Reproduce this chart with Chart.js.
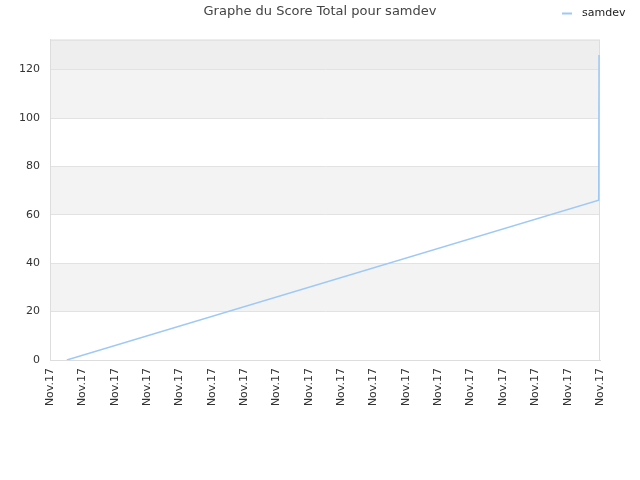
<!DOCTYPE html>
<html>
<head>
<meta charset="utf-8">
<script src="https://cdn.jsdelivr.net/npm/chart.js@4/dist/chart.umd.min.js"></script>
<style>
  html, body { margin: 0; padding: 0; background: #ffffff; }
  #wrap { width: 640px; height: 480px; }
</style>
</head>
<body>
<div id="wrap"><canvas id="c" width="640" height="480"></canvas></div>
<script>
// ---- data ----
const seriesName = 'samdev';
const tickLabels = ['Nov.17','Nov.17','Nov.17','Nov.17','Nov.17','Nov.17','Nov.17','Nov.17','Nov.17',
                    'Nov.17','Nov.17','Nov.17','Nov.17','Nov.17','Nov.17','Nov.17','Nov.17','Nov.17'];
const xValues = [0.52, 16.96, 16.97];
const scoreValues = [0, 66, 126];
const yTicks = [0, 20, 40, 60, 80, 100, 120];
const yMax = 132.4;

const FONT = "'DejaVu Sans', 'Liberation Sans', sans-serif";
const LINE_COLOR = '#9ec9f5';

const bandsPlugin = {
  id: 'bands',
  beforeDraw(chart) {
    const { ctx, chartArea: a, scales: { y } } = chart;
    ctx.save();
    ctx.fillStyle = '#ffffff';
    ctx.fillRect(a.left, a.top, a.right - a.left, a.bottom - a.top);
    for (let i = 0; i < yTicks.length - 1; i++) {
      if (i % 2 === 1) {
        const top = y.getPixelForValue(yTicks[i + 1]);
        const bot = y.getPixelForValue(yTicks[i]);
        ctx.fillStyle = '#f3f3f3';
        ctx.fillRect(a.left, top, a.right - a.left, bot - top);
      }
    }
    const last = y.getPixelForValue(yTicks[yTicks.length - 1]);
    ctx.fillStyle = '#eeeeee';
    ctx.fillRect(a.left, a.top, a.right - a.left, last - a.top);
    ctx.restore();
  },
  beforeDatasetsDraw(chart) {
    const { ctx, chartArea: a } = chart;
    ctx.save();
    ctx.strokeStyle = '#dddddd';
    ctx.lineWidth = 1;
    ctx.strokeRect(a.left + 0.5, a.top + 0.5, a.right - a.left - 1, a.bottom - a.top);
    ctx.restore();
  },
  afterDraw(chart) {
    const { ctx } = chart;
    ctx.save();
    ctx.strokeStyle = LINE_COLOR;
    ctx.lineWidth = 2;
    ctx.beginPath();
    ctx.moveTo(562, 13.5);
    ctx.lineTo(572, 13.5);
    ctx.stroke();
    ctx.fillStyle = '#222222';
    ctx.font = '11px ' + FONT;
    ctx.textBaseline = 'middle';
    ctx.textAlign = 'left';
    ctx.fillText(seriesName, 582, 13);
    ctx.restore();
  }
};

new Chart(document.getElementById('c'), {
  type: 'line',
  data: {
    datasets: [{
      label: seriesName,
      data: xValues.map((x, i) => ({ x: x, y: scoreValues[i] })),
      borderColor: LINE_COLOR,
      backgroundColor: LINE_COLOR,
      borderWidth: 1.5,
      pointRadius: 0,
      tension: 0,
      fill: false
    }]
  },
  options: {
    responsive: false,
    animation: false,
    devicePixelRatio: 1,
    layout: { padding: 0 },
    plugins: {
      legend: { display: false },
      tooltip: { enabled: false },
      title: {
        display: true,
        text: 'Graphe du Score Total pour samdev',
        color: '#444444',
        font: { family: FONT, size: 13, weight: 'normal' },
        padding: { top: 4, bottom: 20 }
      }
    },
    scales: {
      x: {
        type: 'linear',
        min: 0,
        max: tickLabels.length - 1,
        afterBuildTicks(axis) {
          axis.ticks = tickLabels.map((_, i) => ({ value: i }));
        },
        afterFit(s) { s.height = 120; },
        grid: { display: false, drawTicks: false },
        border: { display: true, color: '#dddddd' },
        ticks: {
          autoSkip: false,
          minRotation: 90,
          maxRotation: 90,
          padding: 8,
          color: '#333333',
          font: { family: FONT, size: 11 },
          callback: (v, i) => tickLabels[i]
        }
      },
      y: {
        min: 0,
        max: yMax,
        afterBuildTicks(axis) {
          axis.ticks = yTicks.map(v => ({ value: v }));
        },
        afterFit(s) { s.width = 50; },
        grid: { color: '#e2e2e2', drawTicks: false },
        border: { display: true, color: '#dddddd' },
        ticks: {
          padding: 10,
          color: '#333333',
          font: { family: FONT, size: 11 }
        }
      },
      y2: {
        position: 'right',
        display: true,
        afterFit(s) { s.width = 40; },
        grid: { display: false, drawTicks: false },
        border: { display: false },
        ticks: { display: false }
      }
    }
  },
  plugins: [bandsPlugin]
});
</script>
</body>
</html>
